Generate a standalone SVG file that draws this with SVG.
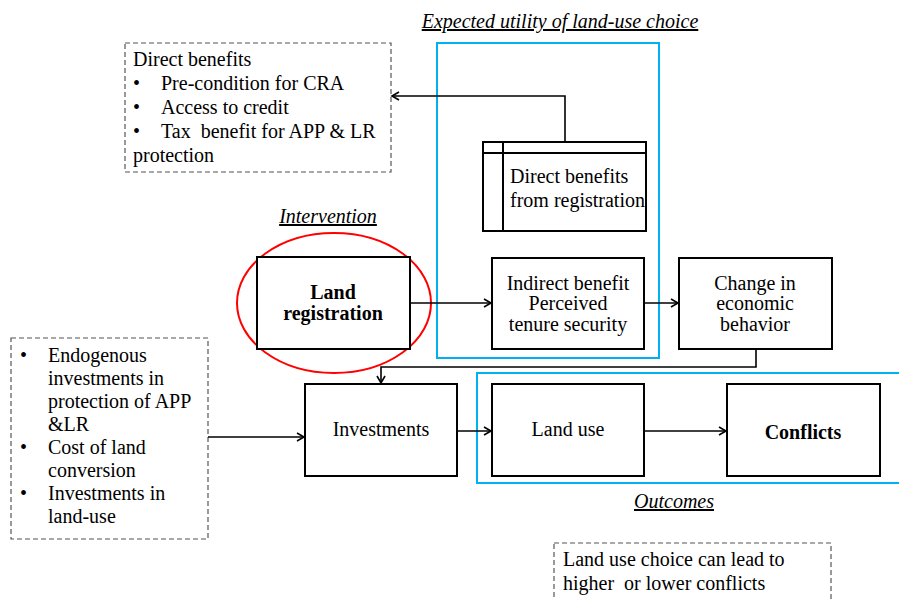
<svg xmlns="http://www.w3.org/2000/svg" width="899" height="599" viewBox="0 0 899 599" font-family="'Liberation Serif', 'Times New Roman', serif">
<style>
text{font-family:'Liberation Serif','Times New Roman',serif;font-size:20px;fill:#000}
.c{text-anchor:middle}
.b{font-weight:bold}
.i{font-style:italic;text-decoration:underline}
.box{fill:#fff;stroke:#000;stroke-width:2}
.dash{fill:#fff;stroke:#555;stroke-width:1.2;stroke-dasharray:5,3}
.blue{fill:none;stroke:#00B0F0;stroke-width:2}
.con{fill:none;stroke:#000;stroke-width:1.6}
</style>
<defs>
<marker id="ah" markerWidth="10" markerHeight="10" refX="8" refY="5" orient="auto" markerUnits="userSpaceOnUse">
<path d="M1,1 L8,5 L1,9" fill="none" stroke="#000" stroke-width="1.6"/>
</marker>
</defs>
<rect width="899" height="599" fill="#fff"/>

<g id="frames">
<rect class="blue" x="437" y="43" width="222" height="315"/>
<rect class="blue" x="477" y="373" width="430" height="110"/>
<text class="c i" x="560" y="28">Expected utility of land-use choice</text>
<text class="c i" x="328" y="223">Intervention</text>
<text class="c i" x="674" y="508">Outcomes</text>
</g>

<g id="direct-benefits-note">
<rect class="dash" x="125" y="43" width="266" height="129"/>
<text x="133" y="66">Direct benefits</text>
<text x="133" y="90">•</text><text x="161" y="90">Pre-condition for CRA</text>
<text x="133" y="114">•</text><text x="161" y="114">Access to credit</text>
<text x="133" y="138">•</text><text x="161" y="138" xml:space="preserve">Tax  benefit for APP &amp; LR</text>
<text x="133" y="162">protection</text>
</g>

<g id="direct-benefits-registration">
<rect class="box" x="483" y="142" width="163" height="89"/>
<line x1="483" y1="153" x2="646" y2="153" stroke="#000" stroke-width="2"/>
<line x1="503" y1="142" x2="503" y2="231" stroke="#000" stroke-width="2"/>
<text x="510" y="183">Direct benefits</text>
<text x="510" y="207">from registration</text>
</g>

<g id="land-registration">
<ellipse cx="334" cy="303" rx="97" ry="70" fill="none" stroke="#FF0000" stroke-width="2"/>
<rect class="box" x="257" y="257" width="153" height="92"/>
<text class="c b" x="333" y="299">Land</text>
<text class="c b" x="333" y="320">registration</text>
</g>

<g id="indirect-benefit">
<rect class="box" x="492" y="258" width="152" height="91"/>
<text class="c" x="568" y="290">Indirect benefit</text>
<text class="c" x="568" y="310">Perceived</text>
<text class="c" x="568" y="331">tenure security</text>
</g>

<g id="change-behavior">
<rect class="box" x="679" y="258" width="153" height="91"/>
<text class="c" x="755" y="290">Change in</text>
<text class="c" x="755" y="310">economic</text>
<text class="c" x="755" y="331">behavior</text>
</g>

<g id="investments-note">
<rect class="dash" x="11" y="338" width="197" height="201"/>
<text x="20" y="362">•</text><text x="48" y="362">Endogenous</text>
<text x="48" y="385">investments in</text>
<text x="48" y="408">protection of APP</text>
<text x="48" y="431">&amp;LR</text>
<text x="20" y="454">•</text><text x="48" y="454">Cost of land</text>
<text x="48" y="477">conversion</text>
<text x="20" y="500">•</text><text x="48" y="500">Investments in</text>
<text x="48" y="523">land-use</text>
</g>

<g id="investments">
<rect class="box" x="305" y="384" width="152" height="92"/>
<text class="c" x="381" y="436">Investments</text>
</g>

<g id="land-use">
<rect class="box" x="492" y="384" width="152" height="92"/>
<text class="c" x="568" y="436">Land use</text>
</g>

<g id="conflicts">
<rect class="box" x="727" y="384" width="153" height="92"/>
<text class="c b" x="803" y="439">Conflicts</text>
</g>

<g id="conflicts-note">
<rect class="dash" x="554" y="543" width="277" height="70"/>
<text x="563" y="566">Land use choice can lead to</text>
<text x="563" y="590" xml:space="preserve">higher  or lower conflicts</text>
</g>

<g id="connectors">
<path class="con" d="M565,142 V96 H392" marker-end="url(#ah)"/>
<path class="con" d="M410,303 H491" marker-end="url(#ah)"/>
<path class="con" d="M644,303 H678" marker-end="url(#ah)"/>
<path class="con" d="M756,349 V367 H381 V383" marker-end="url(#ah)"/>
<path class="con" d="M208,437 H304" marker-end="url(#ah)"/>
<path class="con" d="M457,431 H491" marker-end="url(#ah)"/>
<path class="con" d="M644,431 H726" marker-end="url(#ah)"/>
</g>
</svg>
